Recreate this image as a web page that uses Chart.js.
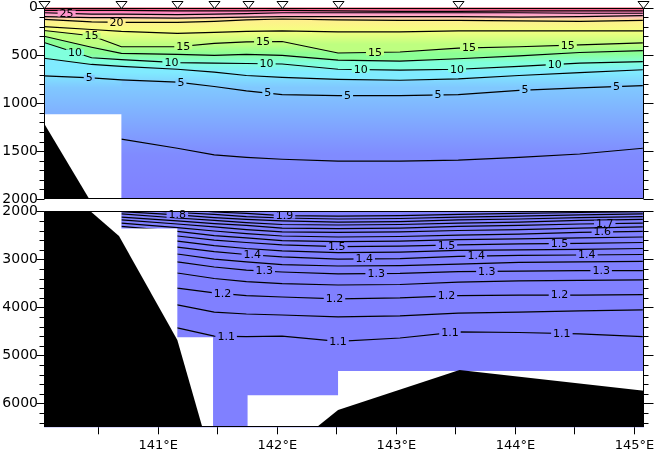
<!DOCTYPE html>
<html>
<head>
<meta charset="utf-8">
<title>Temperature section</title>
<script src="https://cdn.jsdelivr.net/npm/chart.js@4.4.0/dist/chart.umd.min.js"></script>
<style>
  html, body { margin: 0; padding: 0; background: #fff; }
  #wrap { position: relative; width: 655px; height: 452px; }
  #wrap canvas { position: absolute; left: 0; top: 0; }
</style>
</head>
<body>
<div id="wrap">
  <canvas id="chartUpper" width="655" height="452"></canvas>
  <canvas id="chartLower" width="655" height="452"></canvas>
</div>
<script>
/* section plot: potential temperature, 0-2000 m and 2000-6500 m */

// ---- axes ----
const lonMin = 140.04, lonMax = 145.08;
const lonTicks = [140.5, 141, 141.5, 142, 142.5, 143, 143.5, 144, 144.5, 145];
const upperDepthTicks = [0, 500, 1000, 1500, 2000];
const lowerDepthTicks = [2000, 3000, 4000, 5000, 6000];
const stationLon = [140.04, 140.69, 141.16, 141.47, 141.75, 142.04, 142.51, 143.52, 145.07];

// ---- upper panel: isotherm depths (m) at grid nodes ----
const upperLon = [140.04, 140.44, 140.69, 141.16, 141.47, 141.74, 142.04, 142.51, 143.03, 143.52, 144.03, 144.54, 145.07];
const t27_5 = [30, 30, 30, 35, 35, 35, 30, 35, 40, 40, 35, 35, 35];
const t25 = [55, 70, 70, 75, 70, 65, 55, 55, 55, 55, 55, 60, 60];
const t22_5 = [95, 105, 105, 110, 105, 100, 95, 95, 95, 95, 100, 95, 85];
const t20 = [125, 150, 155, 155, 145, 130, 120, 130, 135, 135, 140, 145, 135];
const t17_5 = [200, 230, 250, 270, 260, 250, 245, 255, 255, 245, 245, 245, 245];
const t15 = [240, 295, 410, 410, 375, 360, 355, 475, 465, 425, 410, 390, 370];
const t12_5 = [300, 415, 480, 490, 500, 490, 500, 550, 560, 535, 505, 470, 450];
const t10 = [365, 525, 545, 575, 580, 585, 590, 645, 655, 645, 615, 580, 565];
const t7_5 = [530, 595, 615, 645, 675, 710, 730, 750, 760, 745, 710, 680, 650];
const t5 = [715, 735, 755, 780, 825, 870, 910, 920, 920, 910, 865, 840, 815];
const t2_5 = [null, null, 1375, 1470, 1540, 1565, 1585, 1605, 1605, 1595, 1565, 1530, 1470];
const upperLevels = [27.5, 25, 22.5, 20, 17.5, 15, 12.5, 10, 7.5, 5, 2.5];
const surfaceTemp = 29, deepTemp = 2.0;

// ---- lower panel: isotherm depths (m) ----
const lowerLon = [140.69, 141.16, 141.47, 141.74, 142.04, 142.51, 143.03, 143.52, 144.03, 144.54, 145.07];
const d190 = [1870, 1950, 2015, 2045, 2090, 2100, 2090, 2065, 2045, 2025, 2005];
const d185 = [1950, 2025, 2065, 2110, 2140, 2160, 2150, 2120, 2100, 2075, 2055];
const d180 = [2005, 2075, 2130, 2170, 2200, 2225, 2215, 2180, 2160, 2130, 2110];
const d175 = [2055, 2140, 2190, 2235, 2275, 2285, 2275, 2245, 2225, 2190, 2170];
const d170 = [2120, 2200, 2255, 2295, 2350, 2360, 2350, 2315, 2295, 2265, 2245];
const d165 = [2180, 2265, 2325, 2380, 2430, 2440, 2430, 2400, 2380, 2350, 2325];
const d160 = [2245, 2340, 2410, 2465, 2515, 2535, 2525, 2495, 2475, 2440, 2420];
const d155 = [2315, 2420, 2505, 2555, 2610, 2630, 2620, 2590, 2575, 2555, 2535];
const d150 = [2390, 2515, 2600, 2650, 2700, 2735, 2725, 2700, 2680, 2670, 2650];
const d145 = [2475, 2620, 2715, 2775, 2825, 2860, 2850, 2815, 2805, 2795, 2775];
const d140 = [2575, 2745, 2840, 2900, 2950, 2995, 2985, 2940, 2920, 2910, 2900];
const d135 = [2700, 2890, 2995, 3055, 3110, 3140, 3130, 3100, 3065, 3055, 3045];
const d130 = [2850, 3055, 3160, 3225, 3265, 3305, 3295, 3255, 3245, 3235, 3235];
const d125 = [3055, 3285, 3400, 3465, 3505, 3535, 3525, 3475, 3450, 3440, 3430];
const d120 = [3325, 3600, 3700, 3755, 3785, 3825, 3805, 3755, 3745, 3745, 3735];
const d115 = [3640, 3950, 4100, 4140, 4160, 4200, 4180, 4120, 4100, 4075, 4055];
const d110 = [4055, 4430, 4600, 4610, 4600, 4710, 4640, 4510, 4525, 4555, 4610];
const lowerLevels = [1.9, 1.85, 1.8, 1.75, 1.7, 1.65, 1.6, 1.55, 1.5, 1.45, 1.4, 1.35, 1.3, 1.25, 1.2, 1.15, 1.1];

// ---- contour label longitudes ----
const upperLabelLon = {
  25: [140.23], 20: [140.65],
  15: [140.44, 141.21, 141.88, 142.82, 143.61, 144.44],
  10: [140.30, 141.11, 141.91, 142.70, 143.51, 144.33],
  5: [140.42, 141.19, 141.92, 142.59, 143.35, 144.08, 144.85]
};
const lowerLabelLon = {
  1.9: [142.06], 1.8: [141.16], 1.7: [144.75], 1.6: [144.73],
  1.5: [142.50, 143.42, 144.37],
  1.4: [141.79, 142.73, 143.67, 144.60],
  1.3: [141.89, 142.83, 143.76, 144.72],
  1.2: [141.54, 142.48, 143.42, 144.37],
  1.1: [141.57, 142.51, 143.45, 144.39]
};

// ---- no-data areas and bottom topography ----
const upperMaskLon = [140.04, 140.69, 145.08];
const upperMaskDepth = [1115, 2000, 2000];
const lowerMaskLon = [140.04, 140.69, 141.16, 141.46, 141.75, 142.51, 145.08];
const lowerMaskDepth = [2000, 2360, 4625, 6500, 5830, 5325, 5325];
const upperBathLon = [140.04, 140.42];
const upperBathDepth = [1210, 2000];
const lowerBathLon = [140.04, 140.43, 140.67, 141.16, 141.37];
const lowerBathDepth = [2000, 2000, 2515, 4680, 6500];
const trenchBathLon = [142.33, 142.51, 143.53, 145.08];
const trenchBathDepth = [6500, 6140, 5305, 5740];

// colour scale (temperature -> rgb)
const tempColors = [
  [1.0, [128, 128, 255]],
  [2.0, [128, 128, 255]],
  [3.0, [128, 150, 255]],
  [4.0, [128, 175, 255]],
  [5.0, [128, 200, 255]],
  [7.5, [128, 235, 255]],
  [10, [128, 255, 220]],
  [12.5, [140, 255, 150]],
  [15, [190, 255, 128]],
  [17.5, [245, 255, 128]],
  [20, [255, 240, 140]],
  [22.5, [255, 190, 190]],
  [25, [255, 150, 205]],
  [27.5, [255, 110, 165]],
  [29, [240, 80, 100]]
];

function colorFor(t) {
  const s = tempColors;
  if (t <= s[0][0]) return `rgb(${s[0][1].join(",")})`;
  for (let i = 1; i < s.length; i++) {
    if (t <= s[i][0]) {
      const f = (t - s[i - 1][0]) / (s[i][0] - s[i - 1][0]);
      const a = s[i - 1][1], b = s[i][1];
      const c = a.map((v, k) => Math.round(v + (b[k] - v) * f));
      return `rgb(${c.join(",")})`;
    }
  }
  return `rgb(${s[s.length - 1][1].join(",")})`;
}

function mean(arr) {
  const v = arr.filter((d) => d !== null);
  return v.reduce((p, d) => p + d, 0) / v.length;
}

function depthAt(lons, depths, lon) {
  for (let i = 1; i < lons.length; i++) {
    if (lon <= lons[i] && depths[i - 1] !== null && depths[i] !== null) {
      const f = (lon - lons[i - 1]) / (lons[i] - lons[i - 1]);
      return depths[i - 1] + (depths[i] - depths[i - 1]) * f;
    }
  }
  return depths[depths.length - 1];
}

function pts(lons, depths) {
  return lons.map((x, j) => ({ x, y: depths[j] }));
}

/* isotherm lines + coloured bands between neighbouring isotherms */
function contourDatasets(lons, levels, isos, withBands) {
  const sets = isos.map((arr) => ({
    data: pts(lons, arr),
    borderColor: "#000",
    borderWidth: 1.2,
    pointRadius: 0,
    fill: false,
    order: 4,
  }));
  if (!withBands) return sets;
  isos.forEach((arr, i) => {
    if (i === 0) return;
    const tA = levels[i - 1], tB = levels[i];
    const dA = mean(isos[i - 1]), dB = mean(arr);
    sets.push({
      data: pts(lons, arr),
      borderWidth: 0,
      pointRadius: 0,
      fill: i - 1,
      order: 5,
      backgroundColor: (c) => {
        const { chart } = c;
        if (!chart.chartArea) return colorFor(tA);
        const y = chart.scales.y;
        const g = chart.ctx.createLinearGradient(0, y.getPixelForValue(dA), 0, y.getPixelForValue(dB));
        g.addColorStop(0, colorFor(tA));
        g.addColorStop(1, colorFor(tB));
        return g;
      },
    });
  });
  return sets;
}

function areaDataset(lons, depths, color, base, stepped) {
  return {
    data: pts(lons, depths),
    borderWidth: 0,
    pointRadius: 0,
    backgroundColor: color,
    fill: { value: base },
    stepped: stepped ? "before" : false,
    order: stepped ? 3 : 2,
  };
}

function labelItems(lons, levels, isos, labelLon) {
  const items = [];
  levels.forEach((t, i) => {
    const key = Object.keys(labelLon).find((k) => Math.abs(parseFloat(k) - t) < 1e-6);
    if (!key) return;
    labelLon[key].forEach((lon) => items.push({ t, lon, depth: depthAt(lons, isos[i], lon) }));
  });
  return items;
}

// ---- plugins ----
const backgroundPlugin = {
  id: "fieldBackground",
  beforeDatasetsDraw(chart, args, opts) {
    const { ctx, chartArea: a, scales } = chart;
    const g = ctx.createLinearGradient(0, a.top, 0, a.bottom);
    const span = scales.y.max - scales.y.min;
    opts.stops.forEach(([d, t]) => {
      g.addColorStop(Math.min(1, Math.max(0, (d - scales.y.min) / span)), colorFor(t));
    });
    ctx.save();
    ctx.fillStyle = g;
    ctx.fillRect(a.left, a.top, a.right - a.left, a.bottom - a.top);
    ctx.restore();
  },
};

const contourLabelPlugin = {
  id: "contourLabels",
  afterDatasetsDraw(chart, args, opts) {
    const { ctx, scales } = chart;
    ctx.save();
    ctx.font = '11px "DejaVu Sans"';
    ctx.textAlign = "center";
    ctx.textBaseline = "middle";
    opts.items.forEach(({ t, lon, depth }) => {
      const txt = opts.format(t);
      const x = scales.x.getPixelForValue(lon);
      const y = scales.y.getPixelForValue(depth);
      const w = ctx.measureText(txt).width;
      ctx.fillStyle = opts.bg(t);
      ctx.fillRect(x - w / 2 - 2, y - 3, w + 4, 6);
      ctx.fillStyle = "#000";
      ctx.fillText(txt, x, y + 0.5);
    });
    ctx.restore();
  },
};

const framePlugin = {
  id: "frame",
  afterDatasetsDraw(chart, args, opts) {
    const { ctx, chartArea: a, scales } = chart;
    const L = Math.round(a.left) + 0.5, R = Math.round(a.right) - 0.5;
    const T = Math.round(a.top) + 0.5, B = Math.round(a.bottom) - 0.5;
    ctx.save();
    ctx.strokeStyle = "#000";
    ctx.lineWidth = 1;
    ctx.beginPath();
    ctx.rect(L, T, R - L, B - T);
    for (let d = scales.y.min; d <= scales.y.max; d += opts.minorStep) {
      const y = Math.round(scales.y.getPixelForValue(d)) + 0.5;
      const major = d % opts.majorStep === 0;
      ctx.moveTo(L - (major ? 8 : 5), y);
      ctx.lineTo(L, y);
      ctx.moveTo(R, y);
      ctx.lineTo(R + (major ? 10 : 5), y);
    }
    ctx.stroke();
    ctx.restore();
  },
};

/* station markers: open triangles sitting on the top axis */
const stationPlugin = {
  id: "stations",
  afterDraw(chart, args, opts) {
    if (!opts.lons) return;
    const { ctx, chartArea: a, scales } = chart;
    const top = Math.round(a.top);
    ctx.save();
    ctx.fillStyle = "#fff";
    ctx.strokeStyle = "#000";
    ctx.lineWidth = 1;
    opts.lons.forEach((lon) => {
      const x = Math.round(scales.x.getPixelForValue(lon)) + 0.5;
      ctx.beginPath();
      ctx.moveTo(x - 5.5, top - 6.5);
      ctx.lineTo(x + 5.5, top - 6.5);
      ctx.lineTo(x, top + 0.5);
      ctx.closePath();
      ctx.fill();
      ctx.stroke();
    });
    ctx.restore();
  },
};

function depthAxis(min, max, ticks) {
  return {
    type: "linear",
    min,
    max,
    reverse: true,
    afterBuildTicks: (s) => { s.ticks = ticks.map((value) => ({ value })); },
    afterFit: (s) => { s.width = 44; s.paddingTop = 0; s.paddingBottom = 0; },
    grid: { display: false, drawTicks: false },
    border: { display: false },
    ticks: {
      color: "#000",
      padding: 6,
      font: { family: "DejaVu Sans", size: 14, lineHeight: 1 },
      callback: (v) => String(v),
    },
  };
}

const baseOptions = {
  responsive: false,
  animation: false,
  devicePixelRatio: 1,
  events: [],
};

// ---- upper chart (0-2000 m) ----
const upperIsos = [t27_5, t25, t22_5, t20, t17_5, t15, t12_5, t10, t7_5, t5, t2_5];
const upperSets = contourDatasets(upperLon, upperLevels, upperIsos, true);
upperSets.push(areaDataset(upperMaskLon, upperMaskDepth, "#fff", 2000, true));
upperSets.push(areaDataset(upperBathLon, upperBathDepth, "#000", 2000, false));
const upperStops = [[0, surfaceTemp]]
  .concat(upperLevels.map((t, i) => [mean(upperIsos[i]), t]))
  .concat([[2000, deepTemp]]);

new Chart(document.getElementById("chartUpper"), {
  type: "line",
  data: { datasets: upperSets },
  options: {
    ...baseOptions,
    layout: { padding: { top: 7.5, right: 11, bottom: 253, left: 0 } },
    scales: {
      x: { type: "linear", min: lonMin, max: lonMax, display: false },
      y: depthAxis(0, 2000, upperDepthTicks),
    },
    plugins: {
      legend: { display: false },
      tooltip: { enabled: false },
      fieldBackground: { stops: upperStops },
      contourLabels: {
        items: labelItems(upperLon, upperLevels, upperIsos, upperLabelLon),
        format: (t) => String(t),
        bg: (t) => colorFor(t),
      },
      frame: { minorStep: 100, majorStep: 500 },
      stations: { lons: stationLon },
    },
  },
  plugins: [backgroundPlugin, contourLabelPlugin, framePlugin, stationPlugin],
});

// ---- lower chart (2000-6500 m) ----
const lowerIsos = [d190, d185, d180, d175, d170, d165, d160, d155, d150, d145, d140, d135, d130, d125, d120, d115, d110];
const lowerSets = contourDatasets(lowerLon, lowerLevels, lowerIsos, false);
lowerSets.push(areaDataset(lowerMaskLon, lowerMaskDepth, "#fff", 6500, true));
lowerSets.push(areaDataset(lowerBathLon, lowerBathDepth, "#000", 6500, false));
lowerSets.push(areaDataset(trenchBathLon, trenchBathDepth, "#000", 6500, false));

new Chart(document.getElementById("chartLower"), {
  type: "line",
  data: { datasets: lowerSets },
  options: {
    ...baseOptions,
    layout: { padding: { top: 211.3, right: 11, bottom: 0, left: 0 } },
    scales: {
      x: {
        type: "linear",
        min: lonMin,
        max: lonMax,
        afterBuildTicks: (s) => { s.ticks = lonTicks.map((value) => ({ value })); },
        afterFit: (s) => { s.height = 24.7; s.paddingLeft = 0; s.paddingRight = 0; },
        grid: { drawOnChartArea: false, drawTicks: true, tickLength: 7, color: "#000" },
        border: { display: false },
        ticks: {
          color: "#000",
          padding: 5,
          maxRotation: 0,
          autoSkip: false,
          font: { family: "DejaVu Sans", size: 13, lineHeight: 1 },
          callback: (v) => (Number.isInteger(v) ? v + "°E" : ""),
        },
      },
      y: depthAxis(2000, 6500, lowerDepthTicks),
    },
    plugins: {
      legend: { display: false },
      tooltip: { enabled: false },
      fieldBackground: { stops: [[2000, 1.5], [6500, 1.5]] },
      contourLabels: {
        items: labelItems(lowerLon, lowerLevels, lowerIsos, lowerLabelLon),
        format: (t) => t.toFixed(1),
        bg: () => colorFor(1.5),
      },
      frame: { minorStep: 200, majorStep: 1000 },
      stations: {},
    },
  },
  plugins: [backgroundPlugin, contourLabelPlugin, framePlugin, stationPlugin],
});
</script>
</body>
</html>
